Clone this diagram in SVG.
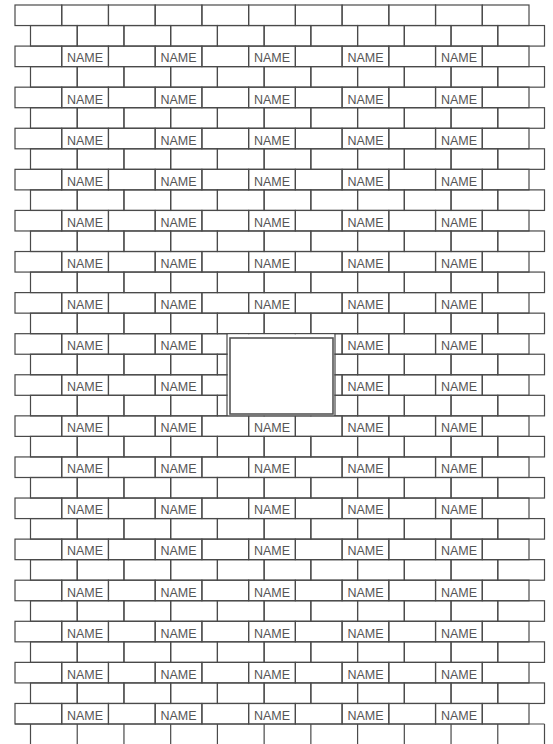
<svg xmlns="http://www.w3.org/2000/svg" xmlns:xlink="http://www.w3.org/1999/xlink" width="553" height="744" viewBox="0 0 553 744">
<style>
.b{fill:none;stroke:#4a4a4a;stroke-width:1.2}
.l{stroke:#4a4a4a;stroke-width:1.2}
.n{font-family:"Liberation Sans",Arial,sans-serif;font-size:12.5px;fill:#555;text-anchor:middle}
.box{fill:#fff;stroke:#555;stroke-width:1.6}
</style>
<defs>
<g id="rowA">
<rect class="b" x="15" y="0" width="46.727" height="20.543"/>
<rect class="b" x="61.727" y="0" width="46.727" height="20.543"/>
<rect class="b" x="108.455" y="0" width="46.727" height="20.543"/>
<rect class="b" x="155.182" y="0" width="46.727" height="20.543"/>
<rect class="b" x="201.909" y="0" width="46.727" height="20.543"/>
<rect class="b" x="248.636" y="0" width="46.727" height="20.543"/>
<rect class="b" x="295.364" y="0" width="46.727" height="20.543"/>
<rect class="b" x="342.091" y="0" width="46.727" height="20.543"/>
<rect class="b" x="388.818" y="0" width="46.727" height="20.543"/>
<rect class="b" x="435.545" y="0" width="46.727" height="20.543"/>
<rect class="b" x="482.273" y="0" width="46.727" height="20.543"/>
</g>
<g id="rowB">
<rect class="b" x="30.5" y="0" width="46.727" height="20.543"/>
<rect class="b" x="77.227" y="0" width="46.727" height="20.543"/>
<rect class="b" x="123.955" y="0" width="46.727" height="20.543"/>
<rect class="b" x="170.682" y="0" width="46.727" height="20.543"/>
<rect class="b" x="217.409" y="0" width="46.727" height="20.543"/>
<rect class="b" x="264.136" y="0" width="46.727" height="20.543"/>
<rect class="b" x="310.864" y="0" width="46.727" height="20.543"/>
<rect class="b" x="357.591" y="0" width="46.727" height="20.543"/>
<rect class="b" x="404.318" y="0" width="46.727" height="20.543"/>
<rect class="b" x="451.045" y="0" width="46.727" height="20.543"/>
<rect class="b" x="497.773" y="0" width="46.727" height="20.543"/>
</g>
</defs>
<rect x="0" y="0" width="553" height="744" fill="#fff"/>
<g id="wall">
<use xlink:href="#rowA" y="5"/>
<use xlink:href="#rowB" y="25.54"/>
<use xlink:href="#rowA" y="46.09"/>
<use xlink:href="#rowB" y="66.63"/>
<use xlink:href="#rowA" y="87.17"/>
<use xlink:href="#rowB" y="107.72"/>
<use xlink:href="#rowA" y="128.26"/>
<use xlink:href="#rowB" y="148.80"/>
<use xlink:href="#rowA" y="169.34"/>
<use xlink:href="#rowB" y="189.89"/>
<use xlink:href="#rowA" y="210.43"/>
<use xlink:href="#rowB" y="230.97"/>
<use xlink:href="#rowA" y="251.52"/>
<use xlink:href="#rowB" y="272.06"/>
<use xlink:href="#rowA" y="292.60"/>
<use xlink:href="#rowB" y="313.15"/>
<use xlink:href="#rowA" y="333.69"/>
<use xlink:href="#rowB" y="354.23"/>
<use xlink:href="#rowA" y="374.77"/>
<use xlink:href="#rowB" y="395.32"/>
<use xlink:href="#rowA" y="415.86"/>
<use xlink:href="#rowB" y="436.40"/>
<use xlink:href="#rowA" y="456.95"/>
<use xlink:href="#rowB" y="477.49"/>
<use xlink:href="#rowA" y="498.03"/>
<use xlink:href="#rowB" y="518.58"/>
<use xlink:href="#rowA" y="539.12"/>
<use xlink:href="#rowB" y="559.66"/>
<use xlink:href="#rowA" y="580.20"/>
<use xlink:href="#rowB" y="600.75"/>
<use xlink:href="#rowA" y="621.29"/>
<use xlink:href="#rowB" y="641.83"/>
<use xlink:href="#rowA" y="662.38"/>
<use xlink:href="#rowB" y="682.92"/>
<use xlink:href="#rowA" y="703.46"/>
<path class="l" d="M30.5 724V744M77.227 724V744M123.955 724V744M170.682 724V744M217.409 724V744M264.136 724V744M310.864 724V744M357.591 724V744M404.318 724V744M451.045 724V744M497.773 724V744M544.5 724V744M15 724H544.5"/>
</g>
<g id="window">
<rect x="227.6" y="334.4" width="106.8" height="80.8" fill="#fff"/>
<path class="l" d="M227 333.7V415.9M335 333.7V415.9"/>
<rect class="box" x="230" y="338" width="103" height="76"/>
</g>
<g id="labels">
<g id="r02"><text class="n" x="85" y="62.4">NAME</text><text class="n" x="178.5" y="62.4">NAME</text><text class="n" x="272" y="62.4">NAME</text><text class="n" x="365.5" y="62.4">NAME</text><text class="n" x="459" y="62.4">NAME</text></g>
<g id="r04"><text class="n" x="85" y="103.5">NAME</text><text class="n" x="178.5" y="103.5">NAME</text><text class="n" x="272" y="103.5">NAME</text><text class="n" x="365.5" y="103.5">NAME</text><text class="n" x="459" y="103.5">NAME</text></g>
<g id="r06"><text class="n" x="85" y="144.6">NAME</text><text class="n" x="178.5" y="144.6">NAME</text><text class="n" x="272" y="144.6">NAME</text><text class="n" x="365.5" y="144.6">NAME</text><text class="n" x="459" y="144.6">NAME</text></g>
<g id="r08"><text class="n" x="85" y="185.6">NAME</text><text class="n" x="178.5" y="185.6">NAME</text><text class="n" x="272" y="185.6">NAME</text><text class="n" x="365.5" y="185.6">NAME</text><text class="n" x="459" y="185.6">NAME</text></g>
<g id="r10"><text class="n" x="85" y="226.7">NAME</text><text class="n" x="178.5" y="226.7">NAME</text><text class="n" x="272" y="226.7">NAME</text><text class="n" x="365.5" y="226.7">NAME</text><text class="n" x="459" y="226.7">NAME</text></g>
<g id="r12"><text class="n" x="85" y="267.8">NAME</text><text class="n" x="178.5" y="267.8">NAME</text><text class="n" x="272" y="267.8">NAME</text><text class="n" x="365.5" y="267.8">NAME</text><text class="n" x="459" y="267.8">NAME</text></g>
<g id="r14"><text class="n" x="85" y="308.9">NAME</text><text class="n" x="178.5" y="308.9">NAME</text><text class="n" x="272" y="308.9">NAME</text><text class="n" x="365.5" y="308.9">NAME</text><text class="n" x="459" y="308.9">NAME</text></g>
<g id="r16"><text class="n" x="85" y="350">NAME</text><text class="n" x="178.5" y="350">NAME</text><text class="n" x="365.5" y="350">NAME</text><text class="n" x="459" y="350">NAME</text></g>
<g id="r18"><text class="n" x="85" y="391.1">NAME</text><text class="n" x="178.5" y="391.1">NAME</text><text class="n" x="365.5" y="391.1">NAME</text><text class="n" x="459" y="391.1">NAME</text></g>
<g id="r20"><text class="n" x="85" y="432.2">NAME</text><text class="n" x="178.5" y="432.2">NAME</text><text class="n" x="272" y="432.2">NAME</text><text class="n" x="365.5" y="432.2">NAME</text><text class="n" x="459" y="432.2">NAME</text></g>
<g id="r22"><text class="n" x="85" y="473.2">NAME</text><text class="n" x="178.5" y="473.2">NAME</text><text class="n" x="272" y="473.2">NAME</text><text class="n" x="365.5" y="473.2">NAME</text><text class="n" x="459" y="473.2">NAME</text></g>
<g id="r24"><text class="n" x="85" y="514.3">NAME</text><text class="n" x="178.5" y="514.3">NAME</text><text class="n" x="272" y="514.3">NAME</text><text class="n" x="365.5" y="514.3">NAME</text><text class="n" x="459" y="514.3">NAME</text></g>
<g id="r26"><text class="n" x="85" y="555.4">NAME</text><text class="n" x="178.5" y="555.4">NAME</text><text class="n" x="272" y="555.4">NAME</text><text class="n" x="365.5" y="555.4">NAME</text><text class="n" x="459" y="555.4">NAME</text></g>
<g id="r28"><text class="n" x="85" y="596.5">NAME</text><text class="n" x="178.5" y="596.5">NAME</text><text class="n" x="272" y="596.5">NAME</text><text class="n" x="365.5" y="596.5">NAME</text><text class="n" x="459" y="596.5">NAME</text></g>
<g id="r30"><text class="n" x="85" y="637.6">NAME</text><text class="n" x="178.5" y="637.6">NAME</text><text class="n" x="272" y="637.6">NAME</text><text class="n" x="365.5" y="637.6">NAME</text><text class="n" x="459" y="637.6">NAME</text></g>
<g id="r32"><text class="n" x="85" y="678.7">NAME</text><text class="n" x="178.5" y="678.7">NAME</text><text class="n" x="272" y="678.7">NAME</text><text class="n" x="365.5" y="678.7">NAME</text><text class="n" x="459" y="678.7">NAME</text></g>
<g id="r34"><text class="n" x="85" y="719.8">NAME</text><text class="n" x="178.5" y="719.8">NAME</text><text class="n" x="272" y="719.8">NAME</text><text class="n" x="365.5" y="719.8">NAME</text><text class="n" x="459" y="719.8">NAME</text></g>
</g>
</svg>
